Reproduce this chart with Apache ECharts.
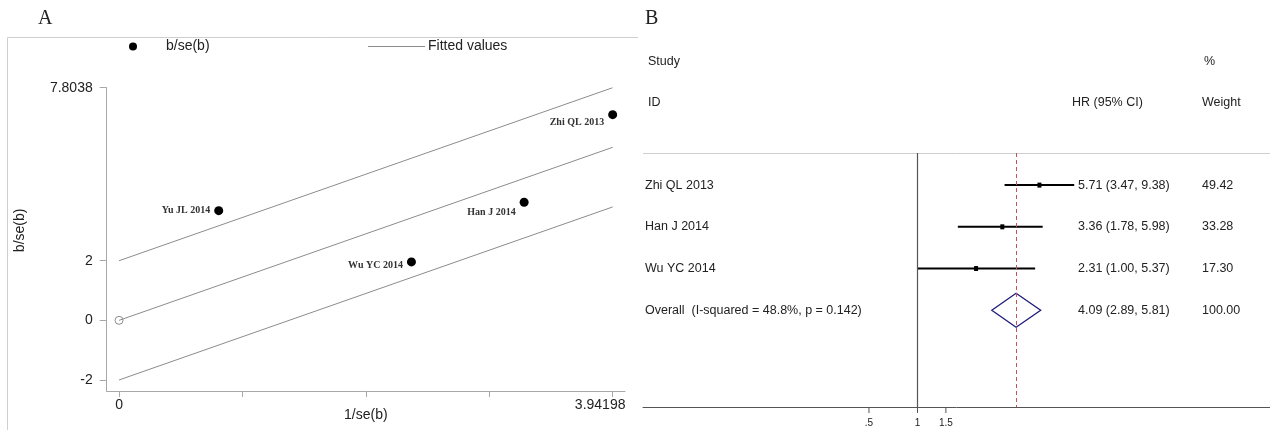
<!DOCTYPE html>
<html>
<head>
<meta charset="utf-8">
<script src="https://cdn.jsdelivr.net/npm/echarts@6/dist/echarts.min.js"></script>
<style>
  html, body { margin: 0; padding: 0; background: #fff; }
  #chart { width: 1270px; height: 430px; }
</style>
</head>
<body>
<div id="chart"></div>
<script>
// ---- Panel A: Egger's regression (standardised effect vs precision) ----
const eggerStudies   = ['Yu JL 2014', 'Zhi QL 2013', 'Han J 2014', 'Wu YC 2014'];
const eggerPrecision = [0.796, 3.94198, 3.235, 2.335];   // 1/se(b)
const eggerStdEffect = [3.68, 6.90, 3.96, 1.96];         // b/se(b)
const fitPrecision   = [0, 3.94198];
const fitStdEffect   = [0, 5.8038];
const bandHalfWidth  = 2;
const eggerYTicks    = [-2, 0, 2, 7.8038];
const eggerXTicks    = [0, 0.985495, 1.97099, 2.956485, 3.94198];
const eggerXLabels   = [0, 3.94198];

// ---- Panel B: forest plot of hazard ratios ----
const forestStudies  = ['Zhi QL 2013', 'Han J 2014', 'Wu YC 2014'];
const forestHR       = [5.71, 3.36, 2.31];
const forestLow      = [3.47, 1.78, 1.00];
const forestHigh     = [9.38, 5.98, 5.37];
const forestWeight   = [49.42, 33.28, 17.30];
const pooled         = [4.09, 2.89, 5.81];   // HR, low, high
const iSquared       = 48.8;
const pHeterogeneity = 0.142;
const forestTicks      = [0.5, 1, 1.5];
const forestTickLabels = ['.5', '1', '1.5'];

// label placement beside each point of panel A (pixels)
const labelNudge = { 'Yu JL 2014': 0, 'Zhi QL 2013': 8, 'Han J 2014': 10, 'Wu YC 2014': 4 };

const SANS = 'Liberation Sans, Arial, sans-serif';
const SERIF = 'Liberation Serif, Times New Roman, serif';
const TXT = '12.5px ' + SANS;
const fmt2 = v => v.toFixed(2);

const FOREST_YMIN = -0.77, FOREST_YMAX = 5.32;
const colStudyX = 645, colHRX = 1078, colWeightX = 1202;

const chart = echarts.init(document.getElementById('chart'), null, { renderer: 'canvas' });

const fitLine = offset => fitPrecision.map((x, i) => [x, fitStdEffect[i] + offset]);

const rowTextData = forestStudies
  .map((s, i) => [s, i, `${fmt2(forestHR[i])} (${fmt2(forestLow[i])}, ${fmt2(forestHigh[i])})`, fmt2(forestWeight[i])])
  .concat([[`Overall  (I-squared = ${iSquared.toFixed(1)}%, p = ${pHeterogeneity.toFixed(3)})`, forestStudies.length,
            `${fmt2(pooled[0])} (${fmt2(pooled[1])}, ${fmt2(pooled[2])})`, '100.00']]);

const xMaxLabel = eggerXLabels[eggerXLabels.length - 1];

const option = {
  animation: false,
  backgroundColor: '#fff',
  grid: [
    { left: 106.7, top: 87.7, width: 518.3, height: 303.3, outerBoundsMode: 'none' },
    { left: 643, top: 153, right: 0, height: 254, outerBoundsMode: 'none' }
  ],
  xAxis: [
    {
      type: 'value', gridIndex: 0, min: -0.0985, max: 4.0405,
      name: '1/se(b)', nameLocation: 'middle', nameGap: 17, nameMoveOverlap: false,
      nameTextStyle: { fontFamily: SANS, fontSize: 14, color: '#222', verticalAlign: 'top' },
      axisLine: { show: true, onZero: false, lineStyle: { color: '#a8a8a8', width: 1 } },
      axisTick: { show: true, length: 6, lineStyle: { color: '#a8a8a8' }, customValues: eggerXTicks },
      axisLabel: {
        show: true, margin: 7, fontFamily: SANS, fontSize: 14, color: '#222',
        customValues: eggerXLabels,
        formatter: v => (v === xMaxLabel ? '{end|' + v + '}' : String(v)),
        rich: { end: { fontFamily: SANS, fontSize: 14, color: '#222', padding: [0, 25, 0, 0] } }
      },
      splitLine: { show: false }
    },
    {
      type: 'log', gridIndex: 1, logBase: 10, min: 0.01982, max: 153.8,
      axisLine: { show: true, onZero: false, lineStyle: { color: '#555', width: 1 } },
      axisTick: { show: false },
      axisLabel: { show: false },
      splitLine: { show: false }
    }
  ],
  yAxis: [
    {
      type: 'value', gridIndex: 0, min: -2.37, max: 7.8038,
      name: 'b/se(b)', nameLocation: 'middle', nameGap: 80, nameRotate: 90, nameMoveOverlap: false,
      nameTextStyle: { fontFamily: SANS, fontSize: 14, color: '#222', padding: [0, 0, 0, 18] },
      axisLine: { show: true, onZero: false, lineStyle: { color: '#a8a8a8', width: 1 } },
      axisTick: { show: true, length: 7, lineStyle: { color: '#a8a8a8' }, customValues: eggerYTicks },
      axisLabel: { show: true, margin: 14, fontFamily: SANS, fontSize: 14, color: '#222',
                   customValues: eggerYTicks, formatter: v => String(v) },
      splitLine: { show: false }
    },
    {
      type: 'value', gridIndex: 1, inverse: true, min: FOREST_YMIN, max: FOREST_YMAX,
      show: false, axisLine: { onZero: false }, splitLine: { show: false }
    }
  ],
  graphic: [
    // panel letters
    { type: 'text', left: 38, top: 9, style: { text: 'A', font: '20px ' + SERIF, fill: '#222' } },
    { type: 'text', left: 645, top: 9, style: { text: 'B', font: '20px ' + SERIF, fill: '#222' } },
    // frame of panel A
    { type: 'line', shape: { x1: 7.5, y1: 37.5, x2: 638, y2: 37.5 }, style: { stroke: '#cfcfcf', lineWidth: 1 } },
    { type: 'line', shape: { x1: 7.5, y1: 37.5, x2: 7.5, y2: 430 }, style: { stroke: '#cfcfcf', lineWidth: 1 } },
    // legend of panel A
    { type: 'circle', shape: { cx: 133, cy: 46.5, r: 4 }, style: { fill: '#000' } },
    { type: 'text', x: 166, y: 46.5, style: { text: 'b/se(b)', font: '14px ' + SANS, fill: '#222', verticalAlign: 'middle' } },
    { type: 'line', shape: { x1: 368, y1: 46.5, x2: 425, y2: 46.5 }, style: { stroke: '#8c8c8c', lineWidth: 1 } },
    { type: 'text', x: 428, y: 46.5, style: { text: 'Fitted values', font: '14px ' + SANS, fill: '#222', verticalAlign: 'middle' } },
    // forest plot header
    { type: 'text', x: 648, y: 62, style: { text: 'Study', font: TXT, fill: '#222', verticalAlign: 'middle' } },
    { type: 'text', x: 648, y: 103, style: { text: 'ID', font: TXT, fill: '#222', verticalAlign: 'middle' } },
    { type: 'text', x: 1204, y: 62, style: { text: '%', font: TXT, fill: '#222', verticalAlign: 'middle' } },
    { type: 'text', x: 1072, y: 103, style: { text: 'HR (95% CI)', font: TXT, fill: '#222', verticalAlign: 'middle' } },
    { type: 'text', x: 1202, y: 103, style: { text: 'Weight', font: TXT, fill: '#222', verticalAlign: 'middle' } },
    { type: 'line', shape: { x1: 643, y1: 153.5, x2: 1270, y2: 153.5 }, style: { stroke: '#cfcfcf', lineWidth: 1 } }
  ],
  series: [
    // ---- Panel A ----
    {
      name: 'Fitted values', type: 'line', xAxisIndex: 0, yAxisIndex: 0,
      data: fitLine(0), showSymbol: false, silent: true,
      lineStyle: { color: '#8c8c8c', width: 1 }
    },
    {
      name: 'upper', type: 'line', xAxisIndex: 0, yAxisIndex: 0,
      data: fitLine(bandHalfWidth), showSymbol: false, silent: true,
      lineStyle: { color: '#8c8c8c', width: 1 }
    },
    {
      name: 'lower', type: 'line', xAxisIndex: 0, yAxisIndex: 0,
      data: fitLine(-bandHalfWidth), showSymbol: false, silent: true,
      lineStyle: { color: '#8c8c8c', width: 1 }
    },
    {
      name: 'intercept', type: 'scatter', xAxisIndex: 0, yAxisIndex: 0,
      data: [[fitPrecision[0], fitStdEffect[0]]],
      symbol: 'circle', symbolSize: 8, silent: true,
      itemStyle: { color: 'rgba(0,0,0,0)', borderColor: '#8c8c8c', borderWidth: 1, opacity: 1 }
    },
    {
      name: 'b/se(b)', type: 'scatter', xAxisIndex: 0, yAxisIndex: 0,
      symbol: 'circle', symbolSize: 9,
      itemStyle: { color: '#000', opacity: 1 },
      data: eggerStudies.map((s, i) => ({
        name: s,
        value: [eggerPrecision[i], eggerStdEffect[i]],
        label: { offset: [0, labelNudge[s]] }
      })),
      label: {
        show: true, position: 'left', distance: 4, formatter: p => p.name,
        fontFamily: SERIF, fontWeight: 'bold', fontSize: 10, color: '#333'
      }
    },
    // ---- Panel B ----
    {
      name: 'ci', type: 'custom', xAxisIndex: 1, yAxisIndex: 1, clip: false,
      encode: { x: [0, 1], y: 2 },
      data: forestStudies.map((s, i) => [forestLow[i], forestHigh[i], i]),
      renderItem: (params, api) => {
        const a = api.coord([api.value(0), api.value(2)]);
        const b = api.coord([api.value(1), api.value(2)]);
        return { type: 'line', shape: { x1: a[0], y1: a[1], x2: b[0], y2: b[1] },
                 style: { stroke: '#000', lineWidth: 2 } };
      }
    },
    {
      name: 'hr', type: 'scatter', xAxisIndex: 1, yAxisIndex: 1,
      symbol: 'rect', symbolSize: [4, 5], itemStyle: { color: '#000', opacity: 1 },
      data: forestStudies.map((s, i) => [forestHR[i], i]),
      markLine: {
        silent: true, symbol: ['none', 'none'], label: { show: false },
        data: [
          { xAxis: 1, lineStyle: { color: '#555', width: 1.2, type: 'solid' } },
          { xAxis: pooled[0], lineStyle: { color: '#c8505a', width: 1, type: [4, 3] } }
        ]
      }
    },
    {
      name: 'pooled', type: 'custom', xAxisIndex: 1, yAxisIndex: 1, clip: false,
      encode: { x: [0, 1, 2], y: 3 },
      data: [[pooled[1], pooled[0], pooled[2], forestStudies.length]],
      renderItem: (params, api) => {
        const row = api.value(3);
        const l = api.coord([api.value(0), row]);
        const c = api.coord([api.value(1), row]);
        const r = api.coord([api.value(2), row]);
        const h = 17;
        return {
          type: 'polygon',
          shape: { points: [[l[0], l[1]], [c[0], c[1] - h], [r[0], r[1]], [c[0], c[1] + h]] },
          style: { fill: 'none', stroke: '#1c1c7a', lineWidth: 1.3 }
        };
      }
    },
    {
      name: 'rowText', type: 'custom', xAxisIndex: 1, yAxisIndex: 1, clip: false, silent: true,
      encode: { y: 1 },
      data: rowTextData,
      dimensions: ['label', 'row', 'hr', 'weight'],
      renderItem: (params, api) => {
        const y = api.coord([1, api.value(1)])[1];
        const item = rowTextData[params.dataIndex];
        const mk = (x, t) => ({ type: 'text', x, y,
          style: { text: t, font: TXT, fill: '#222', verticalAlign: 'middle' } });
        return { type: 'group', children: [mk(colStudyX, item[0]), mk(colHRX, item[2]), mk(colWeightX, item[3])] };
      }
    },
    {
      name: 'ticks', type: 'custom', xAxisIndex: 1, yAxisIndex: 1, clip: false, silent: true,
      encode: { x: 0 },
      data: forestTicks.map((v, i) => [v, i]),
      renderItem: (params, api) => {
        const p = api.coord([api.value(0), FOREST_YMAX]);
        return { type: 'group', children: [
          { type: 'line', shape: { x1: p[0], y1: p[1], x2: p[0], y2: p[1] + 6 }, style: { stroke: '#555', lineWidth: 1 } },
          { type: 'text', x: p[0], y: p[1] + 11,
            style: { text: forestTickLabels[api.value(1)], font: '10px ' + SANS, fill: '#222', align: 'center', verticalAlign: 'top' } }
        ] };
      }
    }
  ]
};

chart.setOption(option);
</script>
</body>
</html>
